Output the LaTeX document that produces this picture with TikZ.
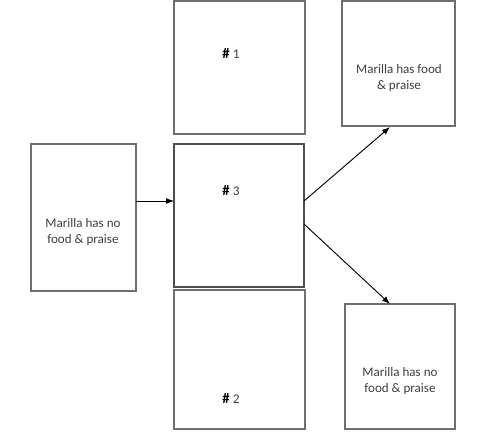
\documentclass[tikz,border=0pt]{standalone}
\usepackage{fontspec}
\setmainfont{Carlito}
\usetikzlibrary{arrows.meta}
\definecolor{boxline}{HTML}{6E6E6E}
\definecolor{txt}{HTML}{404040}
\begin{document}
\begin{tikzpicture}[x=0.75pt,y=-0.75pt,
  box/.style={draw=boxline,line width=0.9pt,fill=white,inner sep=0pt,outer sep=0pt},
  lbl/.style={text=txt,font=\fontsize{9.8}{12}\selectfont,align=center},
  num/.style={font=\fontsize{11}{12}\selectfont},
  arr/.style={-{Latex[length=6pt,width=4.5pt]},line width=0.7pt,black}]
\useasboundingbox (0,0) rectangle (500,447);
\node[box,minimum width=131*0.75pt,minimum height=133*0.75pt] (b1) at (239.5,67.5) {};
\node[box,draw=boxline!70!black,minimum width=130*0.75pt,minimum height=143*0.75pt] (b3) at (239,215.5) {};
\node[box,minimum width=131*0.75pt,minimum height=139*0.75pt] (b2) at (239.5,359.5) {};
\node[box,minimum width=105*0.75pt,minimum height=147*0.75pt] (bl) at (83.5,217.5) {};
\node[box,minimum width=113*0.75pt,minimum height=125*0.75pt] (tr) at (398.5,63.5) {};
\node[box,minimum width=110*0.75pt,minimum height=125*0.75pt] (br) at (400,366.5) {};
\node[num] (t1) at (231,53) {\textbf{\#} \textcolor{txt}{\fontsize{10}{12}\selectfont 1}};
\node[num] (t3) at (231,191) {\textbf{\#} \textcolor{txt}{\fontsize{10}{12}\selectfont 3}};
\node[num] (t2) at (231,398) {\textbf{\#} \textcolor{txt}{\fontsize{10}{12}\selectfont 2}};
\node[lbl] (tl) at (83,232) {Marilla has no\\food \& praise};
\node[lbl] (ttr) at (399,78) {Marilla has food\\\& praise};
\node[lbl] (tbr) at (400,381) {Marilla has no\\food \& praise};
\coordinate (s1) at (304,201);
\coordinate (s2) at (304,224);
\coordinate (e1) at (390,127);
\coordinate (e2) at (390,304);
\draw[arr] (bl.east |- 0,201) -- (b3.west |- 0,201);
\draw[arr] (s1) -- (e1);
\draw[arr] (s2) -- (e2);
\end{tikzpicture}
\end{document}
